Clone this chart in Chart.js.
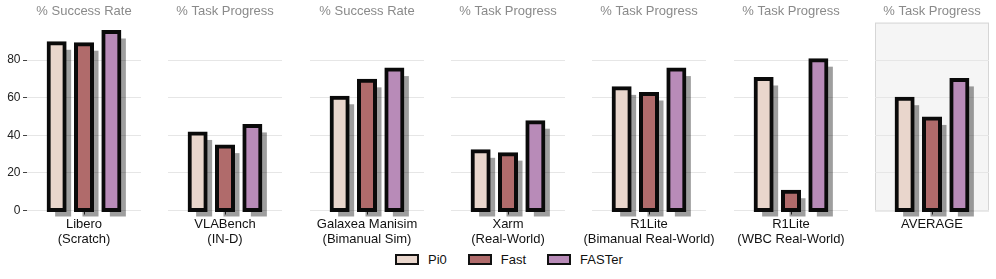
<!DOCTYPE html>
<html>
<head>
<meta charset="utf-8">
<script src="https://cdn.jsdelivr.net/npm/chart.js@4.4.1/dist/chart.umd.min.js"></script>
<style>
  html, body { margin: 0; padding: 0; background: #fff; }
  body { width: 996px; height: 279px; position: relative; overflow: hidden;
         font-family: "Liberation Sans", Arial, sans-serif; }
  .panel { position: absolute; top: 0; height: 250px; }
  #legend { position: absolute; top: 252px; left: 395px; display: flex; align-items: center;
            font-size: 13px; color: #111; }
  #legend .item { display: flex; align-items: center; margin-right: 21px; }
  #legend .box { width: 20px; height: 7px; border: 2px solid #111; margin-right: 9px; }
</style>
</head>
<body>
<div id="legend"></div>
<script>
// données
const categories = [
    ["Libero", "(Scratch)"],
    ["VLABench", "(IN-D)"],
    ["Galaxea Manisim", "(Bimanual Sim)"],
    ["Xarm", "(Real-World)"],
    ["R1Lite", "(Bimanual Real-World)"],
    ["R1Lite", "(WBC Real-World)"],
    ["AVERAGE"]
];
const metrics = ["% Success Rate", "% Task Progress", "% Success Rate", "% Task Progress",
                 "% Task Progress", "% Task Progress", "% Task Progress"];
const seriesNames = ["Pi0", "Fast", "FASTer"];
const pi0 = [89, 41, 60, 31.5, 65, 70, 59.5];
const fast = [88.5, 34, 69, 30, 62, 10, 49];
const faster = [95, 45, 75, 47, 75, 80, 69.5];
const yTicks = [0, 20, 40, 60, 80];

const colors = ["#e9d6cc", "#b06b6b", "#b88bb8"];
const FONT = "'Liberation Sans', Arial, sans-serif";
const SIDE = 40; // marge pour que les libellés longs débordent sans réduire le panneau

// ombre grise décalée derrière chaque barre
const shadowPlugin = {
    id: "barShadow",
    beforeDatasetsDraw(chart) {
        const ctx = chart.ctx;
        ctx.save();
        ctx.fillStyle = "rgba(0,0,0,0.38)";
        chart.data.datasets.forEach((ds, i) => {
            chart.getDatasetMeta(i).data.forEach(el => {
                const p = el.getProps(["x", "y", "base", "width"], true);
                ctx.fillRect(p.x - p.width / 2 + 6.5, p.y + 6.5, p.width, p.base - p.y);
            });
        });
        ctx.restore();
    }
};

// fond gris du panneau "AVERAGE"
const boxPlugin = {
    id: "avgBox",
    beforeDraw(chart, args, opts) {
        if (!opts.on) return;
        const a = chart.chartArea, ctx = chart.ctx;
        ctx.save();
        ctx.fillStyle = "#f5f5f5";
        ctx.fillRect(a.left, a.top, a.right - a.left, a.bottom - a.top);
        ctx.strokeStyle = "#d6d6d6";
        ctx.lineWidth = 1;
        ctx.strokeRect(a.left + 0.5, a.top + 0.5, a.right - a.left - 1, a.bottom - a.top);
        ctx.restore();
    }
};

const body = document.body;
categories.forEach((cat, i) => {
    const first = i === 0;
    const plotLeft = first ? 27 : Math.round(27 + i * 141.3);
    const left = first ? 0 : plotLeft - SIDE;
    const width = first ? 27 + 114 + SIDE : 114 + 2 * SIDE;
    const div = document.createElement("div");
    div.className = "panel";
    div.style.left = left + "px";
    div.style.width = width + "px";
    const canvas = document.createElement("canvas");
    div.appendChild(canvas);
    body.appendChild(div);

    const values = [pi0[i], fast[i], faster[i]];
    new Chart(canvas, {
        type: "bar",
        data: {
            labels: [cat],
            datasets: seriesNames.map((name, k) => ({
                label: name,
                data: [values[k]],
                backgroundColor: colors[k],
                borderColor: "#0a0a0a",
                borderWidth: 4,
                borderSkipped: false,
                inflateAmount: 2,   // bordure centrée sur le bord, comme matplotlib
                clip: false,
                categoryPercentage: 0.72,
                barPercentage: 0.585
            }))
        },
        options: {
            responsive: true,
            maintainAspectRatio: false,
            animation: false,
            layout: { padding: { left: first ? 0 : SIDE, right: SIDE } },
            plugins: {
                legend: { display: false },
                tooltip: { enabled: false },
                avgBox: { on: i === categories.length - 1 },
                title: {
                    display: true,
                    fullSize: false,
                    text: metrics[i],
                    color: "#8a8a8a",
                    font: { family: FONT, size: 13, weight: "normal", lineHeight: 1.2 },
                    padding: { top: 4, bottom: 3 }
                }
            },
            scales: {
                x: {
                    z: 1,
                    border: { display: false },
                    grid: { drawOnChartArea: false, offset: false, tickLength: 4, color: "#333" },
                    ticks: {
                        color: "#111", padding: 3, maxRotation: 0, autoSkip: false,
                        font: { family: FONT, size: 13, lineHeight: 1.13 }
                    },
                    afterFit: s => { s.height = 39.5; }
                },
                y: {
                    min: 0,
                    max: 100,
                    border: { display: false },
                    afterBuildTicks: s => { s.ticks = yTicks.map(v => ({ value: v })); },
                    afterFit: s => { s.width = first ? 27 : 0; },
                    grid: { color: "#e6e6e6", tickColor: "#444", drawTicks: first, tickLength: 4 },
                    ticks: {
                        display: first, color: "#222", padding: 2.5,
                        font: { family: FONT, size: 12 }
                    }
                }
            }
        },
        plugins: [shadowPlugin, boxPlugin]
    });
});

// légende commune en bas
const legend = document.getElementById("legend");
seriesNames.forEach((name, k) => {
    const item = document.createElement("div");
    item.className = "item";
    item.innerHTML = '<span class="box" style="background:' + colors[k] + '"></span><span>' + name + "</span>";
    legend.appendChild(item);
});
</script>
</body>
</html>
